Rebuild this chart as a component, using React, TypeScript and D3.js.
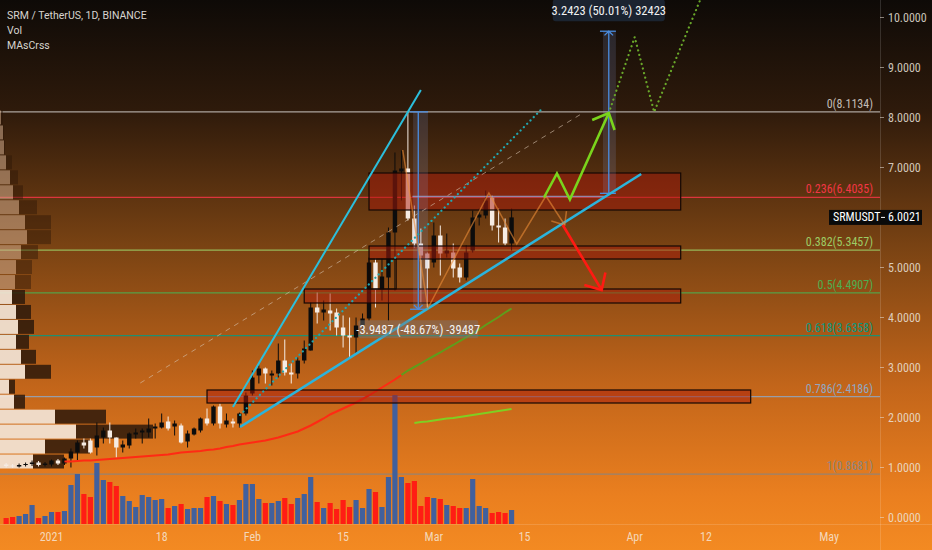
import React from "react";
import * as d3 from "d3";

// ---------- DATA ----------
const firstCandle = Date.UTC(2020, 11, 25);
const opens = [
  1.06, 1.04, 1.02, 1.05, 1.07, 1.1, 1.05, 1.06, 1.14, 1.08,
  1.18, 1.3, 1.5, 1.54, 1.4, 1.6, 1.74, 1.6, 1.4, 1.44,
  1.66, 1.7, 1.7, 1.78, 1.8, 1.92, 1.82, 1.84, 1.52, 1.66,
  1.74, 1.98, 1.88, 2.22, 1.86, 1.92, 1.88, 2.08, 2.48, 2.84,
  2.98, 2.84, 2.88, 3.14, 2.9, 2.88, 3.14, 3.34, 4.2, 4.1,
  4.14, 4.1, 3.8, 3.64, 3.6, 3.84, 3.98, 5.1, 4.56, 4.8,
  5.7, 6.92, 6.98, 5.98, 5.48, 5.28, 5.1, 5.64, 5.28, 5.3,
  5.0, 4.8, 5.34, 6.0, 6.04, 6.4, 5.84, 5.8, 5.48,
];
const highs = [
  1.09, 1.07, 1.08, 1.1, 1.14, 1.13, 1.11, 1.16, 1.17, 1.2,
  1.38, 1.54, 1.58, 1.58, 1.9, 1.8, 1.9, 1.6, 1.54, 1.7,
  1.78, 1.78, 1.98, 1.88, 2.08, 2.02, 1.94, 1.88, 1.74, 1.8,
  2.0, 2.18, 2.24, 2.28, 2.08, 1.98, 2.1, 2.5, 2.94, 3.04,
  3.0, 2.94, 3.48, 3.56, 3.08, 3.2, 3.54, 4.3, 4.5, 4.34,
  4.48, 4.18, 4.04, 4.0, 4.0, 4.08, 5.2, 5.18, 5.18, 5.8,
  7.3, 7.34, 8.11, 6.24, 5.78, 5.3, 5.9, 5.84, 5.68, 5.48,
  5.08, 5.44, 6.14, 6.18, 6.54, 6.44, 6.18, 5.98, 6.18,
];
const lows = [
  1.0, 0.99, 1.0, 1.02, 1.03, 1.02, 1.02, 1.02, 1.05, 1.05,
  1.0, 1.14, 1.38, 1.28, 1.24, 1.48, 1.48, 1.2, 1.3, 1.38,
  1.58, 1.48, 1.6, 1.58, 1.78, 1.74, 1.64, 1.48, 1.4, 1.64,
  1.7, 1.84, 1.84, 1.78, 1.8, 1.8, 1.8, 2.04, 2.44, 2.68,
  2.68, 2.64, 2.8, 2.84, 2.68, 2.78, 3.08, 3.34, 3.88, 3.94,
  3.74, 3.64, 3.4, 3.2, 3.28, 3.8, 3.94, 4.2, 4.34, 3.94,
  4.54, 6.34, 5.94, 5.4, 4.28, 4.2, 5.0, 4.84, 5.2, 4.8,
  4.7, 4.74, 5.3, 5.84, 5.98, 5.74, 5.5, 5.44, 5.34,
];
const closes = [
  1.03, 1.02, 1.05, 1.07, 1.1, 1.05, 1.08, 1.14, 1.08, 1.18,
  1.32, 1.5, 1.44, 1.3, 1.64, 1.74, 1.6, 1.4, 1.46, 1.68,
  1.7, 1.74, 1.78, 1.82, 1.9, 1.78, 1.88, 1.5, 1.68, 1.78,
  1.98, 1.88, 2.22, 1.88, 1.94, 1.88, 2.08, 2.44, 2.8, 2.98,
  2.88, 2.88, 3.14, 2.9, 2.86, 3.14, 3.38, 4.2, 4.1, 4.16,
  4.08, 3.8, 3.64, 3.6, 3.84, 3.98, 5.1, 4.56, 4.82, 5.7,
  6.94, 6.98, 5.98, 5.48, 5.24, 4.98, 5.64, 5.28, 5.34, 4.98,
  4.8, 5.3, 6.0, 6.06, 6.34, 5.84, 5.8, 5.48, 6.0021,
];
const volumes = [
  1.2, 1.4, 1.6, 2.0, 3.8, 1.2, 1.6, 2.4, 2.4, 2.6,
  7.8, 10, 6, 5.4, 12.2, 8.8, 8.4, 7.6, 5.6, 4.6,
  3.4, 5.8, 5.4, 4.8, 5.0, 3.2, 3.6, 4.0, 3.0, 3.2,
  3.2, 5.4, 5.6, 4.6, 4.0, 3.8, 4.8, 8.0, 8.0, 5.0,
  4.2, 4.2, 4.6, 5.2, 4.0, 5.2, 6.0, 9.4, 4.4, 3.2,
  4.2, 3.0, 4.8, 3.4, 4.8, 3.2, 7.0, 6.4, 3.4, 9.4,
  25.8, 9.4, 8.2, 8.6, 3.6, 5.4, 5.2, 5.0, 3.8, 3.6,
  3.2, 3.2, 9.0, 3.6, 3.2, 2.2, 2.4, 2.2, 2.8,
];
const N = null;
const maFast = [
  N, N, N, N, N, N, N, N, N,
  1.12, 1.12, 1.13, 1.14, 1.14, 1.15, 1.16, 1.17, 1.18, 1.19,
  1.2, 1.21, 1.22, 1.23, 1.24, 1.25, 1.26, 1.28, 1.3, 1.31,
  1.32, 1.33, 1.35, 1.36, 1.38, 1.41, 1.43, 1.46, 1.48, 1.5,
  1.52, 1.54, 1.57, 1.6, 1.64, 1.68, 1.72, 1.78, 1.84, 1.91,
  1.98, 2.06, 2.12, 2.18, 2.24, 2.3, 2.37, 2.44, 2.52, 2.6,
  2.68, 2.76, 2.85, 2.94, 3.01, 3.08, 3.16, 3.23, 3.3, 3.38,
  3.45, 3.53, 3.6, 3.68, 3.76, 3.85, 3.93, 4.01, 4.1, 4.18,
];
const maCrossIndex = 61; // 2021-02-24
const maSlow = [
  N, N, N, N, N, N, N, N, N, N, N, N, N, N, N, N, N, N, N, N,
  N, N, N, N, N, N, N, N, N, N, N, N, N, N, N, N, N, N, N, N,
  N, N, N, N, N, N, N, N, N, N, N, N, N, N, N, N, N, N, N, N,
  N, N, N,
  1.89, 1.91, 1.92, 1.94, 1.96, 1.98, 1.99, 2.01, 2.03, 2.05, 2.07, 2.09, 2.11, 2.13, 2.15, 2.17,
];

// visible-range volume profile, top row first (price bins from 8.14 down to 0.96)
const profileTop = 8.14;
const profileBottom = 0.96;
const profileUp = [1, 3, 4, 6, 10, 13, 19, 25, 27, 21, 16, 15, 12, 16, 18, 16, 21, 25, 9, 14, 55, 76, 45, 33];
const profileTotal = [3, 4, 5, 12, 18, 23, 37, 51, 51, 38, 32, 31, 25, 31, 34, 29, 36, 51, 15, 25, 106, 153, 90, 64];
const valueAreaFrom = 12;

// fibonacci retracement
const fibHigh = 8.1134;
const fibRange = 7.24534;
const fibLevels = [0, 0.236, 0.382, 0.5, 0.618, 0.786, 1];
const fibColors = ["#c2bcb6", "#f23645", "#9ccc65", "#4caf50", "#089981", "#8fa7c2", "#8a8580"];

const priceTicks = [0, 1, 2, 3, 4, 5, 6, 7, 8, 9, 10];
const timeTickDates = ["2021-01-01", "2021-01-18", "2021-02-01", "2021-02-15", "2021-03-01", "2021-03-15", "2021-04-01", "2021-04-12", "2021-05-01"];
const timeTickLabels = ["2021", "18", "Feb", "15", "Mar", "15", "Apr", "12", "May"];

// drawings: [days after 2021-01-01, price]
const wedgeUpper = [[28.0, 2.21], [57.0, 8.55]];
const wedgeLower = [[29.1, 1.81], [91.0, 6.87]];
const dottedChannel = [[29.1, 2.05], [75.5, 8.15]];
const dashedTrend = [[13.7, 2.69], [82.0, 8.09]];
const zones = [
  { d0: 49.0, d1: 97.1, p0: 6.89, p1: 6.15 },
  { d0: 49.0, d1: 97.1, p0: 5.43, p1: 5.17 },
  { d0: 39.0, d1: 97.1, p0: 4.57, p1: 4.29 },
  { d0: 24.0, d1: 107.9, p0: 2.55, p1: 2.29 },
];
const outlineBox = { d0: 49.0, d1: 53.2, p0: 5.17, p1: 4.57 };
const greenPath = [[76.0, 6.4], [78.0, 6.88], [80.0, 6.36], [86.0, 8.09]];
const redPath = [[78.9, 5.85], [84.9, 4.55]];
const orangePath = [[54.2, 7.35], [58.1, 4.19], [67.5, 6.49], [71.8, 5.47], [76.3, 6.43], [79.2, 5.85]];
const dottedProjection = [[86.0, 8.09], [90.0, 9.61], [93.0, 8.11], [100.1, 10.35]];
const rangeDown = { d: 56.6, dBand: [55.8, 58.1], from: 8.1134, to: 4.1647, label: "-3.9487 (-48.67%) -39487" };
const rangeUp = { d: 86.0, dBand: [85.1, 87.1], from: 6.4835, to: 9.7258, label: "3.2423 (50.01%) 32423" };
const rangeLink = [[55.7, 6.42], [85.5, 6.42]];

// ---------- LAYOUT ----------
const W = 932;
const H = 550;
const plotRight = 880;
const plotBottom = 524;
const NARROW = "'Liberation Sans Narrow','Roboto Condensed','Arial Narrow',Roboto,sans-serif";
const UI = "Roboto,'Noto Sans',sans-serif";

const DAY = 86400000;
const origin = Date.UTC(2021, 0, 1);
const x = d3.scaleUtc().domain([new Date(origin), new Date(Date.UTC(2021, 4, 1))]).range([51.5, 51.5 + 6.48 * 120]);
const y = d3.scaleLinear().domain([0, 10]).range([517.5, 17.5]);
const yv = d3.scaleLinear().domain([0, 30]).range([plotBottom, plotBottom - 150]);
const wp = d3.scaleLinear().domain([0, 153]).range([0, 153]);
const xd = (d: number) => x(new Date(origin + d * DAY));
const pt = (a: number[]) => [xd(a[0]), y(a[1])] as [number, number];

const candles = opens.map((o, i) => ({
  date: new Date(firstCandle + i * DAY),
  o, h: highs[i], l: lows[i], c: closes[i], v: volumes[i],
}));

function arrowHead(tip: [number, number], from: [number, number], len: number, ang: number) {
  const a = Math.atan2(from[1] - tip[1], from[0] - tip[0]);
  const p1 = [tip[0] + len * Math.cos(a + ang), tip[1] + len * Math.sin(a + ang)];
  const p2 = [tip[0] + len * Math.cos(a - ang), tip[1] + len * Math.sin(a - ang)];
  return `M${p1[0]},${p1[1]}L${tip[0]},${tip[1]}L${p2[0]},${p2[1]}`;
}

export default function App() {
  const line = d3.line<[number, number]>();
  const bw = 6.48 * 0.68;
  const vw = 6.48 * 0.8;
  const binH = (profileTop - profileBottom) / profileUp.length;

  const fastPts = maFast.map((v, i) => (v == null ? null : ([x(candles[i].date), y(v)] as [number, number])));
  const redSeg = fastPts.slice(0, maCrossIndex + 1).filter(Boolean) as [number, number][];
  const greenSeg = fastPts.slice(maCrossIndex).filter(Boolean) as [number, number][];
  const slowPts = maSlow.map((v, i) => (v == null ? null : ([x(candles[i].date), y(v)] as [number, number]))).filter(Boolean) as [number, number][];

  const gP = greenPath.map(pt);
  const rP = redPath.map(pt);
  const oP = orangePath.map(pt);
  const last = candles[candles.length - 1];

  const rangeTool = (r: typeof rangeDown) => {
    const xc = xd(r.d);
    const xa = xd(r.dBand[0]);
    const xb = xd(r.dBand[1]);
    const y0 = y(r.from);
    const y1 = y(r.to);
    const tip: [number, number] = [xc, y1];
    return (
      <g>
        <rect x={xa} y={Math.min(y0, y1)} width={xb - xa} height={Math.abs(y1 - y0)} fill="rgba(140,170,235,0.16)" />
        <line x1={xa - 3} x2={xb} y1={y0} y2={y0} stroke="#4a8de0" strokeWidth={1.3} />
        <line x1={xa - 3} x2={xb} y1={y1} y2={y1} stroke="#4a8de0" strokeWidth={1.3} />
        <line x1={xc} x2={xc} y1={y0} y2={y1} stroke="#4a8de0" strokeWidth={1.3} />
        <path d={arrowHead(tip, [xc, y0], 6, 0.8)} fill="none" stroke="#4a8de0" strokeWidth={1.3} />
      </g>
    );
  };

  return (
    <svg width={W} height={H} style={{ position: "fixed", left: 0, top: 0, display: "block" }}>
      <defs>
        <linearGradient id="bg" x1="0" y1="0" x2="0" y2="1">
          <stop offset="0" stopColor="#0e0a07" />
          <stop offset="0.2" stopColor="#2e1a0b" />
          <stop offset="0.45" stopColor="#7a4313" />
          <stop offset="0.7" stopColor="#c2651a" />
          <stop offset="0.9" stopColor="#ea7f1f" />
          <stop offset="1" stopColor="#f38a22" />
        </linearGradient>
        <clipPath id="plot">
          <rect x={0} y={0} width={plotRight} height={plotBottom} />
        </clipPath>
      </defs>
      <rect x={0} y={0} width={W} height={H} fill="url(#bg)" />

      <g clipPath="url(#plot)">
        {/* fib lines */}
        {fibLevels.map((lv, i) => (
          <line key={"fl" + i} x1={0} x2={plotRight} y1={y(fibHigh - lv * fibRange)} y2={y(fibHigh - lv * fibRange)} stroke={fibColors[i]} strokeWidth={1.2} strokeOpacity={0.85} />
        ))}

        {/* volume profile */}
        {profileUp.map((u, i) => {
          const top = y(profileTop - i * binH);
          const h = y(profileTop - (i + 1) * binH) - top - 1;
          const va = i >= valueAreaFrom;
          return (
            <g key={"vp" + i}>
              <rect x={0} y={top} width={wp(u)} height={h} fill={va ? "rgba(242,228,214,0.92)" : "rgba(205,170,140,0.55)"} />
              <rect x={wp(u)} y={top} width={wp(profileTotal[i] - u)} height={h} fill={va ? "rgba(45,25,10,0.85)" : "rgba(45,22,6,0.45)"} />
            </g>
          );
        })}

        {/* volume */}
        {candles.map((c, i) => (
          <rect key={"v" + i} x={x(c.date) - vw / 2} y={yv(c.v)} width={vw} height={yv(0) - yv(c.v)} fill={c.c >= c.o ? "#41609d" : "#ff1d14"} />
        ))}

        {/* candles */}
        {candles.map((c, i) => {
          const up = c.c >= c.o;
          const col = up ? "#0c0c0c" : "#f6ece4";
          const cx = x(c.date);
          const top = y(Math.max(c.o, c.c));
          const bh = Math.max(1, y(Math.min(c.o, c.c)) - top);
          return (
            <g key={"c" + i}>
              <line x1={cx} x2={cx} y1={y(c.h)} y2={y(c.l)} stroke={col} strokeWidth={1} />
              <rect x={cx - bw / 2} y={top} width={bw} height={bh} fill={col} />
            </g>
          );
        })}

        {/* moving averages */}
        <path d={line(redSeg) || ""} fill="none" stroke="#ff2a14" strokeWidth={2} />
        <path d={line(greenSeg) || ""} fill="none" stroke="#5e9e1c" strokeWidth={2} />
        <path d={line(slowPts) || ""} fill="none" stroke="#7fcf22" strokeWidth={2} />

        {/* zones */}
        {zones.map((z, i) => (
          <rect key={"z" + i} x={xd(z.d0)} y={y(z.p0)} width={xd(z.d1) - xd(z.d0)} height={y(z.p1) - y(z.p0)} fill="rgba(170,25,10,0.5)" stroke="#140804" strokeWidth={1.2} />
        ))}
        <rect x={xd(outlineBox.d0)} y={y(outlineBox.p0)} width={xd(outlineBox.d1) - xd(outlineBox.d0)} height={y(outlineBox.p1) - y(outlineBox.p0)} fill="none" stroke="#140804" strokeWidth={1} />

        {/* price range tools */}
        {rangeTool(rangeDown)}
        {rangeTool(rangeUp)}
        <path d={line(rangeLink.map(pt)) || ""} stroke="rgba(150,175,230,0.7)" strokeWidth={1.5} fill="none" />

        {/* trend lines */}
        <path d={line(dashedTrend.map(pt)) || ""} stroke="rgba(215,195,175,0.6)" strokeWidth={1} strokeDasharray="5 5" fill="none" />
        <path d={line(dottedChannel.map(pt)) || ""} stroke="#21a7b0" strokeWidth={2.2} strokeDasharray="0.1 4.6" strokeLinecap="round" fill="none" />
        <path d={line(wedgeUpper.map(pt)) || ""} stroke="#2bbfdc" strokeWidth={2} fill="none" />
        <path d={line(wedgeLower.map(pt)) || ""} stroke="#2bb4dc" strokeWidth={2.6} fill="none" />

        {/* projections */}
        <path d={line(oP) || ""} stroke="rgba(235,140,55,0.6)" strokeWidth={1.5} fill="none" />
        <path d={arrowHead(oP[oP.length - 1], oP[oP.length - 2], 14, 0.7)} stroke="rgba(235,140,55,0.6)" strokeWidth={1.5} fill="none" />
        <path d={line(dottedProjection.map(pt)) || ""} stroke="#6aa82a" strokeWidth={2.2} strokeDasharray="0.1 4.6" strokeLinecap="round" fill="none" />
        <path d={line(gP) || ""} stroke="#7ad41c" strokeWidth={2.6} fill="none" strokeLinejoin="miter" />
        <path d={arrowHead(gP[gP.length - 1], gP[gP.length - 2], 18, 0.75)} stroke="#7ad41c" strokeWidth={2.6} fill="none" />
        <path d={line(rP) || ""} stroke="#ff1a12" strokeWidth={2.6} fill="none" />
        <path d={arrowHead(rP[rP.length - 1], rP[rP.length - 2], 18, 0.75)} stroke="#ff1a12" strokeWidth={2.6} fill="none" />

        {/* fib labels */}
        {fibLevels.map((lv, i) => {
          const v = fibHigh - lv * fibRange;
          return (
            <text key={"ft" + i} x={873} y={y(v) - 4} textAnchor="end" fontFamily={NARROW} fontSize={12} fill={fibColors[i]}>
              {`${lv}(${v.toFixed(4)})`}
            </text>
          );
        })}

        {/* range labels */}
        <g>
          <rect x={xd(rangeDown.d) - 60} y={y(rangeDown.to) + 11} width={120} height={18} rx={2} fill="rgba(125,120,120,0.45)" />
          <text x={xd(rangeDown.d)} y={y(rangeDown.to) + 20} textAnchor="middle" dominantBaseline="central" fontFamily={NARROW} fontSize={12.5} fill="#f2f2f2">{rangeDown.label}</text>
          <rect x={xd(rangeUp.d) - 56} y={y(rangeUp.to) - 32} width={112} height={22} rx={3} fill="rgba(28,38,52,0.92)" />
          <text x={xd(rangeUp.d)} y={y(rangeUp.to) - 21} textAnchor="middle" dominantBaseline="central" fontFamily={NARROW} fontSize={12.5} fill="#f2f2f2">{rangeUp.label}</text>
        </g>
      </g>

      {/* axes */}
      <line x1={plotRight + 0.5} x2={plotRight + 0.5} y1={0} y2={H} stroke="rgba(255,255,255,0.14)" />
      <line x1={0} x2={W} y1={plotBottom + 0.5} y2={plotBottom + 0.5} stroke="rgba(255,255,255,0.14)" />
      {priceTicks.map((p) => (
        <g key={"pt" + p}>
          <line x1={plotRight} x2={plotRight + 4} y1={y(p)} y2={y(p)} stroke="rgba(230,220,210,0.55)" />
          <text x={888} y={y(p)} dominantBaseline="central" fontFamily={NARROW} fontSize={12} fill="rgba(235,228,220,0.85)">{p.toFixed(4)}</text>
        </g>
      ))}
      {timeTickDates.map((d, i) => (
        <text key={"tt" + i} x={x(new Date(d + "T00:00:00Z"))} y={537} textAnchor="middle" dominantBaseline="central" fontFamily={NARROW} fontSize={12} fill="rgba(245,230,215,0.85)">{timeTickLabels[i]}</text>
      ))}

      {/* last price label */}
      <g>
        <rect x={829} y={y(last.c) - 7.5} width={93} height={15} fill="#0a0a0a" />
        <text x={833} y={y(last.c)} dominantBaseline="central" fontFamily={NARROW} fontSize={12} fill="#ffffff">SRMUSDT</text>
        <line x1={881} x2={885} y1={y(last.c)} y2={y(last.c)} stroke="#ffffff" />
        <text x={888} y={y(last.c)} dominantBaseline="central" fontFamily={NARROW} fontSize={12} fill="#ffffff">{last.c.toFixed(4)}</text>
      </g>

      {/* legend */}
      <g fontFamily={UI} fontSize={10.5} fill="#d7d4cf">
        <text x={7} y={19}>SRM / TetherUS, 1D, BINANCE</text>
        <text x={7} y={34}>Vol</text>
        <text x={7} y={49}>MAsCrss</text>
      </g>
    </svg>
  );
}
